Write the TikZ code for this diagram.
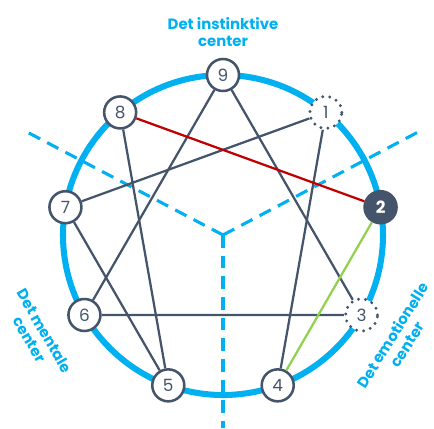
\documentclass[tikz,border=0pt]{standalone}
\usepackage{fontspec}
\setsansfont{Poppins}
\definecolor{ennblue}{HTML}{00B0F0}
\definecolor{enngray}{HTML}{44546A}
\definecolor{ennred}{HTML}{C00000}
\definecolor{enngreen}{HTML}{92D050}

\begin{document}
\begin{tikzpicture}[font=\sffamily,
        point/.style={circle, draw=enngray, line width=1.8pt, fill=white,
            minimum size=0.8cm, inner sep=0pt, text=enngray, font=\sffamily\large},
        dotpoint/.style={point, line width=2.3pt, dash pattern=on 0pt off 5pt, line cap=round},
        mainpoint/.style={point, fill=enngray, text=white, font=\sffamily\bfseries\large},
        link/.style={enngray, line width=1.6pt},
        divider/.style={ennblue, line width=2.2pt, dash pattern=on 9pt off 5.7pt},
        centerlabel/.style={text=ennblue, font=\sffamily\bfseries\fontsize{10.6}{12.3}\selectfont,
            align=center, inner sep=0pt}]
        \useasboundingbox (-5.575,-4.825) rectangle (5.275,5.875);

        \coordinate (mid) at (0,0);
        \coordinate (divL) at (-4.9,2.575);
        \coordinate (divR) at (4.925,2.6);
        \coordinate (divB) at (0,-4.825);
        \draw[divider] (mid) -- (divL);
        \draw[divider] (mid) -- (divR);
        \draw[divider] (mid) -- (divB);

        \draw[ennblue, line width=4.3pt] (mid) circle (4cm);

        \foreach \n/\a in {9/90, 4/-70, 5/-110, 6/-150, 7/170, 8/130}
            \node[point] (n\n) at (\a:4cm) {\n};
        \node[dotpoint] (n1) at (50:4cm) {1};
        \node[dotpoint] (n3) at (-30:4cm) {3};
        \node[mainpoint] (n2) at (10:4cm) {2};

        \draw[link] (n9) -- (n3) -- (n6) -- (n9);
        \draw[link] (n1) -- (n4);
        \draw[link] (n8) -- (n5) -- (n7) -- (n1);
        \draw[ennred, line width=1.6pt] (n2) -- (n8);
        \draw[enngreen, line width=1.6pt] (n4) -- (n2);

        \node[centerlabel] (instinct) at (0,5.075) {Det instinktive\\center};
        \node[centerlabel, rotate=-60] (mental) at (-4.65,-2.5) {Det mentale\\center};
        \node[centerlabel, rotate=58] (emotion) at (4.42,-2.62) {Det emotionelle\\center};
\end{tikzpicture}
\end{document}
